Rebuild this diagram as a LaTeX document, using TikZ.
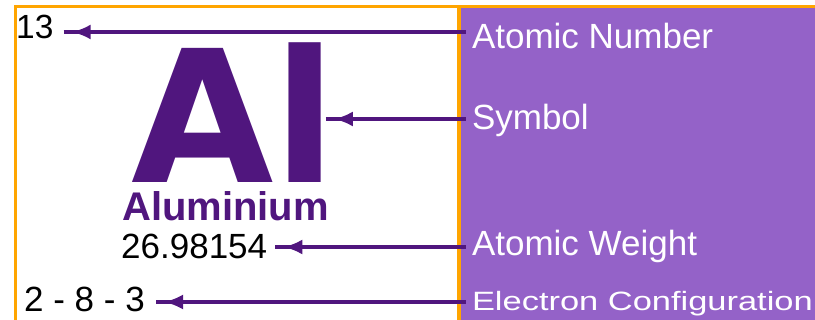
\documentclass[tikz,border=0pt]{standalone}
\usepackage{fontspec}
\setmainfont{Liberation Sans}
\newfontfamily\symfont{DejaVu Sans}
\usetikzlibrary{arrows.meta, decorations.markings}
\definecolor{alpurple}{RGB}{80,22,126}
\definecolor{keypurple}{RGB}{148,98,200}
\definecolor{alorange}{RGB}{255,165,0}

\begin{document}
\begin{tikzpicture}
	[x=1pt, y=-1pt,
	 txt/.style={inner sep=0pt, anchor=base west},
	 val/.style={txt, font=\fontsize{35}{40}\selectfont},
	 key/.style={txt, outer xsep=6pt, text=white, font=\fontsize{35}{42}\selectfont},
	 lead/.style={draw=alpurple, line width=3.5pt, postaction=decorate,
	   decoration={markings, mark=at position 8pt with {\arrowreversed{Latex[length=19pt,width=15pt]}}}}]
	\useasboundingbox (0,0) rectangle (815,320);
	\fill[keypurple] (459,6) rectangle (815,320);
	\draw[alorange, line width=3pt] (815,6.5) -- (15.5,6.5) -- (15.5,320);
	\draw[alorange, line width=4pt] (459,6) -- (459,320);

	\node[val, font=\fontsize{33.5}{40}\selectfont] (n_13) at (16,39) {13};
	\node[txt, text depth=0pt, text=alpurple, font=\symfont\bfseries\fontsize{184}{184}\selectfont] (n_al) at (131,183) {Al};
	\node[txt, text=alpurple, font=\bfseries\fontsize{40}{40}\selectfont] (n_name) at (122,221) {Aluminium};
	\node[val] (n_wt) at (121,259) {26.98154};
	\node[val] (n_cfg) at (24,312) {2 - 8 - 3};

	\node[key] (k_num) at (466,49) {Atomic Number};
	\node[key] (k_sym) at (466,130) {Symbol};
	\node[key] (k_wt) at (466,256) {Atomic Weight};
	\node[key, font=\fontsize{26.5}{32}\selectfont] (k_cfg) at (466,311) {\scalebox{1.3}[1]{Electron Configuration}};

	\draw[lead] ([shift={(10,-7)}]n_13.base east) coordinate (s_num) -- (s_num -| k_num.west);
	\draw[lead] ([shift={(-11,-64)}]n_al.base east) coordinate (s_sym) -- (s_sym -| k_sym.west);
	\draw[lead] ([shift={(8,-12)}]n_wt.base east) coordinate (s_wt) -- (s_wt -| k_wt.west);
	\draw[lead] ([shift={(11,-10)}]n_cfg.base east) coordinate (s_cfg) -- (s_cfg -| k_cfg.west);
\end{tikzpicture}
\end{document}
